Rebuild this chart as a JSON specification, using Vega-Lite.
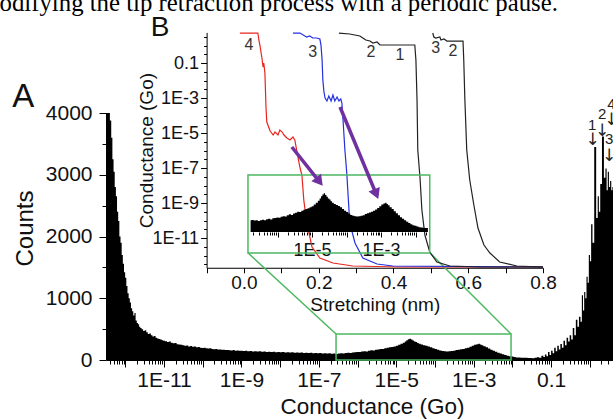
{
"$schema":"https://vega.github.io/schema/vega-lite/v6.json",
"autosize":{"type":"none"},
"padding":{"left":106,"top":113,"right":0,"bottom":59},
"width":507,"height":247,
"config":{"view":{"stroke":null},"axis":{"grid":false,"domainColor":"#000","tickColor":"#000","labelColor":"#111","titleColor":"#111","labelFont":"Liberation Sans","titleFont":"Liberation Sans","titleFontWeight":"normal","labelOverlap":false,"labelFlush":false,"labelBound":false},"text":{"font":"Liberation Sans"}},
"datasets":{
"hist":[{"log_g":-12.5,"count":4000},{"log_g":-12.46,"count":4000},{"log_g":-12.42,"count":4000},{"log_g":-12.38,"count":3880},{"log_g":-12.35,"count":3600},{"log_g":-12.32,"count":3250},{"log_g":-12.29,"count":3050},{"log_g":-12.26,"count":2800},{"log_g":-12.23,"count":2650},{"log_g":-12.2,"count":2400},{"log_g":-12.17,"count":2250},{"log_g":-12.14,"count":2000},{"log_g":-12.11,"count":1900},{"log_g":-12.08,"count":1700},{"log_g":-12.05,"count":1560},{"log_g":-12.02,"count":1420},{"log_g":-11.99,"count":1330},{"log_g":-11.96,"count":1200},{"log_g":-11.93,"count":1080},{"log_g":-11.9,"count":1000},{"log_g":-11.87,"count":930},{"log_g":-11.84,"count":840},{"log_g":-11.81,"count":790},{"log_g":-11.78,"count":720},{"log_g":-11.75,"count":760},{"log_g":-11.72,"count":640},{"log_g":-11.69,"count":600},{"log_g":-11.66,"count":580},{"log_g":-11.63,"count":540},{"log_g":-11.6,"count":520},{"log_g":-11.56,"count":500},{"log_g":-11.52,"count":470},{"log_g":-11.48,"count":480},{"log_g":-11.44,"count":450},{"log_g":-11.4,"count":420},{"log_g":-11.36,"count":430},{"log_g":-11.32,"count":400},{"log_g":-11.28,"count":380},{"log_g":-11.24,"count":390},{"log_g":-11.2,"count":360},{"log_g":-11.16,"count":350},{"log_g":-11.12,"count":340},{"log_g":-11.08,"count":330},{"log_g":-11.04,"count":320},{"log_g":-11,"count":310},{"log_g":-10.95,"count":305},{"log_g":-10.9,"count":290},{"log_g":-10.85,"count":300},{"log_g":-10.8,"count":280},{"log_g":-10.75,"count":270},{"log_g":-10.7,"count":275},{"log_g":-10.65,"count":255},{"log_g":-10.6,"count":250},{"log_g":-10.55,"count":245},{"log_g":-10.5,"count":240},{"log_g":-10.45,"count":230},{"log_g":-10.4,"count":235},{"log_g":-10.35,"count":220},{"log_g":-10.3,"count":225},{"log_g":-10.25,"count":215},{"log_g":-10.2,"count":220},{"log_g":-10.15,"count":205},{"log_g":-10.1,"count":210},{"log_g":-10.05,"count":200},{"log_g":-10,"count":195},{"log_g":-9.95,"count":200},{"log_g":-9.9,"count":190},{"log_g":-9.85,"count":185},{"log_g":-9.8,"count":190},{"log_g":-9.75,"count":180},{"log_g":-9.7,"count":175},{"log_g":-9.65,"count":180},{"log_g":-9.6,"count":170},{"log_g":-9.55,"count":172},{"log_g":-9.5,"count":165},{"log_g":-9.45,"count":168},{"log_g":-9.4,"count":160},{"log_g":-9.35,"count":162},{"log_g":-9.3,"count":158},{"log_g":-9.25,"count":155},{"log_g":-9.2,"count":160},{"log_g":-9.15,"count":150},{"log_g":-9.1,"count":152},{"log_g":-9.05,"count":148},{"log_g":-9,"count":150},{"log_g":-8.94,"count":145},{"log_g":-8.88,"count":148},{"log_g":-8.82,"count":140},{"log_g":-8.76,"count":145},{"log_g":-8.7,"count":138},{"log_g":-8.64,"count":142},{"log_g":-8.58,"count":136},{"log_g":-8.52,"count":140},{"log_g":-8.46,"count":132},{"log_g":-8.4,"count":136},{"log_g":-8.34,"count":130},{"log_g":-8.28,"count":134},{"log_g":-8.22,"count":128},{"log_g":-8.16,"count":132},{"log_g":-8.1,"count":126},{"log_g":-8.04,"count":130},{"log_g":-7.98,"count":125},{"log_g":-7.92,"count":128},{"log_g":-7.86,"count":122},{"log_g":-7.8,"count":126},{"log_g":-7.74,"count":120},{"log_g":-7.68,"count":124},{"log_g":-7.62,"count":118},{"log_g":-7.56,"count":122},{"log_g":-7.5,"count":116},{"log_g":-7.44,"count":120},{"log_g":-7.38,"count":114},{"log_g":-7.32,"count":118},{"log_g":-7.26,"count":112},{"log_g":-7.2,"count":116},{"log_g":-7.14,"count":110},{"log_g":-7.08,"count":114},{"log_g":-7.02,"count":108},{"log_g":-6.96,"count":112},{"log_g":-6.9,"count":106},{"log_g":-6.84,"count":110},{"log_g":-6.78,"count":104},{"log_g":-6.72,"count":108},{"log_g":-6.66,"count":102},{"log_g":-6.6,"count":106},{"log_g":-6.54,"count":98},{"log_g":-6.48,"count":104},{"log_g":-6.42,"count":110},{"log_g":-6.36,"count":106},{"log_g":-6.3,"count":114},{"log_g":-6.24,"count":118},{"log_g":-6.18,"count":112},{"log_g":-6.12,"count":122},{"log_g":-6.06,"count":126},{"log_g":-6,"count":130},{"log_g":-5.94,"count":128},{"log_g":-5.88,"count":136},{"log_g":-5.82,"count":140},{"log_g":-5.76,"count":138},{"log_g":-5.7,"count":150},{"log_g":-5.64,"count":158},{"log_g":-5.58,"count":152},{"log_g":-5.52,"count":165},{"log_g":-5.46,"count":172},{"log_g":-5.4,"count":180},{"log_g":-5.34,"count":178},{"log_g":-5.28,"count":190},{"log_g":-5.22,"count":198},{"log_g":-5.16,"count":205},{"log_g":-5.1,"count":212},{"log_g":-5.04,"count":220},{"log_g":-4.98,"count":230},{"log_g":-4.92,"count":245},{"log_g":-4.86,"count":262},{"log_g":-4.8,"count":280},{"log_g":-4.76,"count":300},{"log_g":-4.72,"count":320},{"log_g":-4.68,"count":335},{"log_g":-4.64,"count":345},{"log_g":-4.6,"count":330},{"log_g":-4.56,"count":315},{"log_g":-4.52,"count":300},{"log_g":-4.48,"count":290},{"log_g":-4.44,"count":275},{"log_g":-4.4,"count":262},{"log_g":-4.34,"count":250},{"log_g":-4.28,"count":240},{"log_g":-4.22,"count":232},{"log_g":-4.16,"count":220},{"log_g":-4.1,"count":205},{"log_g":-4.04,"count":190},{"log_g":-3.98,"count":178},{"log_g":-3.92,"count":165},{"log_g":-3.86,"count":152},{"log_g":-3.8,"count":145},{"log_g":-3.74,"count":140},{"log_g":-3.68,"count":138},{"log_g":-3.62,"count":140},{"log_g":-3.56,"count":145},{"log_g":-3.5,"count":150},{"log_g":-3.44,"count":160},{"log_g":-3.38,"count":168},{"log_g":-3.32,"count":175},{"log_g":-3.26,"count":180},{"log_g":-3.2,"count":190},{"log_g":-3.14,"count":200},{"log_g":-3.08,"count":215},{"log_g":-3.02,"count":230},{"log_g":-2.96,"count":245},{"log_g":-2.9,"count":255},{"log_g":-2.86,"count":262},{"log_g":-2.82,"count":250},{"log_g":-2.78,"count":238},{"log_g":-2.72,"count":222},{"log_g":-2.66,"count":205},{"log_g":-2.6,"count":185},{"log_g":-2.54,"count":168},{"log_g":-2.48,"count":150},{"log_g":-2.42,"count":132},{"log_g":-2.36,"count":118},{"log_g":-2.3,"count":104},{"log_g":-2.24,"count":92},{"log_g":-2.18,"count":80},{"log_g":-2.12,"count":70},{"log_g":-2.06,"count":60},{"log_g":-2,"count":55},{"log_g":-1.94,"count":48},{"log_g":-1.88,"count":42},{"log_g":-1.82,"count":40},{"log_g":-1.76,"count":38},{"log_g":-1.7,"count":35},{"log_g":-1.64,"count":36},{"log_g":-1.58,"count":32},{"log_g":-1.52,"count":34},{"log_g":-1.46,"count":30},{"log_g":-1.4,"count":35},{"log_g":-1.34,"count":45},{"log_g":-1.28,"count":38},{"log_g":-1.22,"count":70},{"log_g":-1.18,"count":50},{"log_g":-1.14,"count":90},{"log_g":-1.1,"count":60},{"log_g":-1.06,"count":130},{"log_g":-1.02,"count":80},{"log_g":-0.98,"count":150},{"log_g":-0.94,"count":110},{"log_g":-0.9,"count":200},{"log_g":-0.86,"count":140},{"log_g":-0.82,"count":230},{"log_g":-0.78,"count":170},{"log_g":-0.74,"count":260},{"log_g":-0.7,"count":200},{"log_g":-0.66,"count":310},{"log_g":-0.62,"count":240},{"log_g":-0.58,"count":360},{"log_g":-0.54,"count":300},{"log_g":-0.5,"count":400},{"log_g":-0.46,"count":330},{"log_g":-0.42,"count":520},{"log_g":-0.38,"count":400},{"log_g":-0.34,"count":650},{"log_g":-0.3,"count":540},{"log_g":-0.26,"count":700},{"log_g":-0.22,"count":620},{"log_g":-0.19,"count":1050},{"log_g":-0.16,"count":800},{"log_g":-0.13,"count":1100},{"log_g":-0.1,"count":1000},{"log_g":-0.07,"count":1350},{"log_g":-0.04,"count":1250},{"log_g":-0.01,"count":1700},{"log_g":0.02,"count":1600},{"log_g":0.05,"count":2200},{"log_g":0.09,"count":1900},{"log_g":0.14,"count":3450},{"log_g":0.19,"count":2300},{"log_g":0.22,"count":2650},{"log_g":0.25,"count":2400},{"log_g":0.29,"count":2850},{"log_g":0.34,"count":3620},{"log_g":0.39,"count":2950},{"log_g":0.42,"count":3100},{"log_g":0.45,"count":2750},{"log_g":0.48,"count":3050},{"log_g":0.51,"count":2800},{"log_g":0.54,"count":2900},{"log_g":0.57,"count":2750},{"log_g":0.6,"count":2800}],
"traces":[
{"trace":"t4","x_nm":-0.011,"log_g":0.714},{"trace":"t4","x_nm":0.037,"log_g":0.714},{"trace":"t4","x_nm":0.04,"log_g":0.314},{"trace":"t4","x_nm":0.043,"log_g":-0.029},{"trace":"t4","x_nm":0.048,"log_g":-0.714},{"trace":"t4","x_nm":0.051,"log_g":-1.229},{"trace":"t4","x_nm":0.053,"log_g":-1.0},{"trace":"t4","x_nm":0.056,"log_g":-1.571},{"trace":"t4","x_nm":0.059,"log_g":-3.571},{"trace":"t4","x_nm":0.061,"log_g":-4.371},{"trace":"t4","x_nm":0.07,"log_g":-4.886},{"trace":"t4","x_nm":0.078,"log_g":-5.114},{"trace":"t4","x_nm":0.083,"log_g":-4.943},{"trace":"t4","x_nm":0.091,"log_g":-5.114},{"trace":"t4","x_nm":0.096,"log_g":-4.829},{"trace":"t4","x_nm":0.102,"log_g":-4.943},{"trace":"t4","x_nm":0.107,"log_g":-5.114},{"trace":"t4","x_nm":0.115,"log_g":-5.286},{"trace":"t4","x_nm":0.123,"log_g":-5.4},{"trace":"t4","x_nm":0.131,"log_g":-5.229},{"trace":"t4","x_nm":0.136,"log_g":-5.4},{"trace":"t4","x_nm":0.142,"log_g":-6.086},{"trace":"t4","x_nm":0.15,"log_g":-7.0},{"trace":"t4","x_nm":0.155,"log_g":-7.4},{"trace":"t4","x_nm":0.16,"log_g":-8.829},{"trace":"t4","x_nm":0.168,"log_g":-10.143},{"trace":"t4","x_nm":0.182,"log_g":-11.514},{"trace":"t4","x_nm":0.203,"log_g":-12.143},{"trace":"t4","x_nm":0.238,"log_g":-12.429},{"trace":"t4","x_nm":0.291,"log_g":-12.6},{"trace":"t4","x_nm":0.417,"log_g":-12.657},{"trace":"t4","x_nm":0.8,"log_g":-12.657},
{"trace":"t3","x_nm":0.131,"log_g":0.714},{"trace":"t3","x_nm":0.15,"log_g":0.714},{"trace":"t3","x_nm":0.163,"log_g":0.543},{"trace":"t3","x_nm":0.168,"log_g":0.486},{"trace":"t3","x_nm":0.176,"log_g":0.543},{"trace":"t3","x_nm":0.184,"log_g":0.429},{"trace":"t3","x_nm":0.195,"log_g":0.429},{"trace":"t3","x_nm":0.203,"log_g":0.371},{"trace":"t3","x_nm":0.206,"log_g":0.029},{"trace":"t3","x_nm":0.209,"log_g":-0.829},{"trace":"t3","x_nm":0.211,"log_g":-1.971},{"trace":"t3","x_nm":0.214,"log_g":-2.657},{"trace":"t3","x_nm":0.217,"log_g":-3.0},{"trace":"t3","x_nm":0.222,"log_g":-3.171},{"trace":"t3","x_nm":0.227,"log_g":-2.886},{"trace":"t3","x_nm":0.233,"log_g":-3.171},{"trace":"t3","x_nm":0.238,"log_g":-2.829},{"trace":"t3","x_nm":0.243,"log_g":-3.171},{"trace":"t3","x_nm":0.249,"log_g":-2.943},{"trace":"t3","x_nm":0.254,"log_g":-3.171},{"trace":"t3","x_nm":0.259,"log_g":-3.057},{"trace":"t3","x_nm":0.262,"log_g":-3.286},{"trace":"t3","x_nm":0.265,"log_g":-4.257},{"trace":"t3","x_nm":0.27,"log_g":-5.971},{"trace":"t3","x_nm":0.275,"log_g":-7.286},{"trace":"t3","x_nm":0.283,"log_g":-10.143},{"trace":"t3","x_nm":0.297,"log_g":-11.286},{"trace":"t3","x_nm":0.318,"log_g":-12.143},{"trace":"t3","x_nm":0.356,"log_g":-12.486},{"trace":"t3","x_nm":0.398,"log_g":-12.6},{"trace":"t3","x_nm":0.8,"log_g":-12.657},
{"trace":"t1","x_nm":0.254,"log_g":0.714},{"trace":"t1","x_nm":0.283,"log_g":0.657},{"trace":"t1","x_nm":0.31,"log_g":0.543},{"trace":"t1","x_nm":0.318,"log_g":0.429},{"trace":"t1","x_nm":0.326,"log_g":0.314},{"trace":"t1","x_nm":0.337,"log_g":0.257},{"trace":"t1","x_nm":0.345,"log_g":0.143},{"trace":"t1","x_nm":0.356,"log_g":0.2},{"trace":"t1","x_nm":0.364,"log_g":0.029},{"trace":"t1","x_nm":0.457,"log_g":0.029},{"trace":"t1","x_nm":0.46,"log_g":-0.829},{"trace":"t1","x_nm":0.463,"log_g":-3.114},{"trace":"t1","x_nm":0.465,"log_g":-5.971},{"trace":"t1","x_nm":0.471,"log_g":-7.571},{"trace":"t1","x_nm":0.476,"log_g":-9.4},{"trace":"t1","x_nm":0.484,"log_g":-10.829},{"trace":"t1","x_nm":0.497,"log_g":-11.8},{"trace":"t1","x_nm":0.516,"log_g":-12.371},{"trace":"t1","x_nm":0.551,"log_g":-12.6},{"trace":"t1","x_nm":0.631,"log_g":-12.657},{"trace":"t1","x_nm":0.8,"log_g":-12.657},
{"trace":"t2","x_nm":0.505,"log_g":0.714},{"trace":"t2","x_nm":0.508,"log_g":0.486},{"trace":"t2","x_nm":0.513,"log_g":0.429},{"trace":"t2","x_nm":0.524,"log_g":0.486},{"trace":"t2","x_nm":0.527,"log_g":0.314},{"trace":"t2","x_nm":0.535,"log_g":0.371},{"trace":"t2","x_nm":0.543,"log_g":0.257},{"trace":"t2","x_nm":0.586,"log_g":0.257},{"trace":"t2","x_nm":0.588,"log_g":-0.829},{"trace":"t2","x_nm":0.591,"log_g":-3.114},{"trace":"t2","x_nm":0.596,"log_g":-5.971},{"trace":"t2","x_nm":0.604,"log_g":-7.686},{"trace":"t2","x_nm":0.615,"log_g":-9.114},{"trace":"t2","x_nm":0.626,"log_g":-10.429},{"trace":"t2","x_nm":0.642,"log_g":-11.4},{"trace":"t2","x_nm":0.658,"log_g":-11.857},{"trace":"t2","x_nm":0.684,"log_g":-12.371},{"trace":"t2","x_nm":0.73,"log_g":-12.6},{"trace":"t2","x_nm":0.8,"log_g":-12.657}]
},
"resolve":{"scale":{"x":"independent","y":"independent","color":"independent"},"axis":{"x":"independent","y":"independent"}},
"layer":[
{
"encoding":{
"x":{"field":"log_g","type":"quantitative","title":"Conductance (Go)","scale":{"domain":[-12.5,0.6],"nice":false,"zero":false},
"axis":{"orient":"bottom","values":[-12.398,-12.301,-12.222,-12.155,-12.097,-12.046,-12,-11.699,-11.523,-11.398,-11.301,-11.222,-11.155,-11.097,-11.046,-11,-10.699,-10.523,-10.398,-10.301,-10.222,-10.155,-10.097,-10.046,-10,-9.699,-9.523,-9.398,-9.301,-9.222,-9.155,-9.097,-9.046,-9,-8.699,-8.523,-8.398,-8.301,-8.222,-8.155,-8.097,-8.046,-8,-7.699,-7.523,-7.398,-7.301,-7.222,-7.155,-7.097,-7.046,-7,-6.699,-6.523,-6.398,-6.301,-6.222,-6.155,-6.097,-6.046,-6,-5.699,-5.523,-5.398,-5.301,-5.222,-5.155,-5.097,-5.046,-5,-4.699,-4.523,-4.398,-4.301,-4.222,-4.155,-4.097,-4.046,-4,-3.699,-3.523,-3.398,-3.301,-3.222,-3.155,-3.097,-3.046,-3,-2.699,-2.523,-2.398,-2.301,-2.222,-2.155,-2.097,-2.046,-2,-1.699,-1.523,-1.398,-1.301,-1.222,-1.155,-1.097,-1.046,-1,-0.699,-0.523,-0.398,-0.301,-0.222,-0.155,-0.097,-0.046,0,0.301,0.477],
"labelExpr":"abs(datum.value - round(datum.value)) < 0.001 && abs(round(datum.value)) % 2 == 1 ? (round(datum.value) == -1 ? '0.1' : '1E' + round(datum.value)) : ''",
"tickSize":{"condition":{"test":"abs(datum.value - round(datum.value)) < 0.001","value":7},"value":4},
"labelFontSize":21,"labelPadding":2,"titleFontSize":22.5,"titleX":266,"titleY":53,"titleBaseline":"alphabetic","titleAlign":"center"}},
"y":{"field":"count","type":"quantitative","title":"Counts","scale":{"domain":[0,4000],"nice":false,"zero":false},
"axis":{"orient":"left","values":[0,500,1000,1500,2000,2500,3000,3500,4000],
"labelExpr":"datum.value % 1000 == 0 ? format(datum.value, 'd') : ''",
"tickSize":{"condition":{"test":"datum.value % 1000 == 0","value":7},"value":4},
"labelFontSize":21,"labelPadding":7,"titleFontSize":24,"titleX":-81,"titleY":115,"titleBaseline":"middle","titleAlign":"center"}}
},
"layer":[
{"data":{"name":"hist"},"mark":{"type":"area","interpolate":"step","color":"#000"}},
{"data":{"values":[{"log_g":-6.556,"log_g2":-2.034,"count":0,"count2":421}]},"mark":{"type":"rect","filled":false,"stroke":"#4cb860","strokeWidth":1.5},"encoding":{"x2":{"field":"log_g2"},"y2":{"field":"count2"}}},
{"data":{"values":[{"log_g":-8.829,"log_g2":-6.556,"count":1733,"count2":421},{"log_g":-4.127,"log_g2":-2.034,"count":1733,"count2":421}]},"mark":{"type":"rule","stroke":"#4cb860","strokeWidth":1.5},"encoding":{"x2":{"field":"log_g2"},"y2":{"field":"count2"}}},
{"data":{"values":[{"log_g":-15.75,"count":5650,"label":"modifying the tip retraction process with a periodic pause."}]},"mark":{"type":"text","font":"Liberation Serif","fontSize":24.8,"baseline":"alphabetic","align":"left","color":"#000"},"encoding":{"text":{"field":"label"}}},
{"data":{"values":[{"log_g":-14.64,"count":4097,"label":"A"}]},"mark":{"type":"text","fontSize":33,"baseline":"alphabetic","align":"center","color":"#111"},"encoding":{"text":{"field":"label"}}},
{"data":{"values":[{"log_g":-11.1,"count":5250,"label":"B"}]},"mark":{"type":"text","fontSize":28,"baseline":"alphabetic","align":"center","color":"#111"},"encoding":{"text":{"field":"label"}}},
{"data":{"values":[{"log_g":0.059,"count":3806,"label":"1"},{"log_g":0.318,"count":3984,"label":"2"},{"log_g":0.499,"count":3579,"label":"3"},{"log_g":0.56,"count":4146,"label":"4"}]},"mark":{"type":"text","fontSize":15,"baseline":"middle","align":"center","color":"#222"},"encoding":{"text":{"field":"label"}}},
{"data":{"values":[{"log_g":0.072,"count":3560,"label":"↓"},{"log_g":0.318,"count":3715,"label":"↓"},{"log_g":0.499,"count":3300,"label":"↓"},{"log_g":0.56,"count":3880,"label":"↓"}]},"mark":{"type":"text","font":"DejaVu Sans","fontSize":17,"baseline":"middle","align":"center","color":"#222"},"encoding":{"text":{"field":"label"}}}
]
},
{
"encoding":{
"x":{"field":"x_nm","type":"quantitative","title":"Stretching (nm)","scale":{"domain":[-0.1,0.8],"range":[100.6,437],"nice":false,"zero":false},
"axis":{"orient":"bottom","offset":-92.25,"values":[-0.1,0,0.1,0.2,0.3,0.4,0.5,0.6,0.7,0.8],
"labelExpr":"round(datum.value*10) % 2 == 0 && datum.value > -0.05 ? format(datum.value, '.1f') : ''",
"tickSize":5,"labelFontSize":19,"labelPadding":1,"titleFontSize":19,"titleY":43,"titleBaseline":"alphabetic"}},
"y":{"field":"log_g","type":"quantitative","title":"Conductance (Go)","scale":{"domain":[-12.7,0.75],"range":[154.75,-80.6],"nice":false,"zero":false},
"axis":{"orient":"left","offset":-100.6,"values":[-12.5,-12,-11.5,-11,-10.5,-10,-9.5,-9,-8.5,-8,-7.5,-7,-6.5,-6,-5.5,-5,-4.5,-4,-3.5,-3,-2.5,-2,-1.5,-1,-0.5,0,0.5],
"labelExpr":"abs(round(datum.value) - datum.value) < 0.01 && abs(round(datum.value)) % 2 == 1 ? (round(datum.value) == -1 ? '0.1' : '1E' + round(datum.value)) : ''",
"tickSize":{"condition":{"test":"abs(round(datum.value) - datum.value) < 0.01 && abs(round(datum.value)) % 2 == 1","value":6},"value":3},
"labelFontSize":18,"labelPadding":2,"titleFontSize":19,"titleX":-60,"titleBaseline":"middle","titleAlign":"center"}}
},
"layer":[
{"data":{"name":"traces"},"mark":{"type":"line","strokeWidth":1.2},"encoding":{"color":{"field":"trace","type":"nominal","legend":null,"scale":{"domain":["t4","t3","t1","t2"],"range":["#e8251f","#2430dd","#222222","#222222"]}}}},
{"data":{"values":[{"x_nm":0.0107,"x2_nm":0.497,"log_g":-11.857,"log_g2":-7.4}]},"mark":{"type":"rect","filled":false,"stroke":"#4cb860","strokeWidth":1.5},"encoding":{"x2":{"field":"x2_nm"},"y2":{"field":"log_g2"}}},
{"data":{"values":[{"x_nm":0.128,"x2_nm":0.199,"log_g":-5.8,"log_g2":-7.703},{"x_nm":0.257,"x2_nm":0.352,"log_g":-3.514,"log_g2":-8.4}]},"mark":{"type":"rule","stroke":"#7030a0","strokeWidth":3.5},"encoding":{"x2":{"field":"x2_nm"},"y2":{"field":"log_g2"}}},
{"data":{"values":[{"x_nm":0.199,"log_g":-7.703}]},"mark":{"type":"point","shape":"triangle","filled":true,"color":"#7030a0","opacity":1,"size":150,"angle":141.7}},
{"data":{"values":[{"x_nm":0.352,"log_g":-8.4}]},"mark":{"type":"point","shape":"triangle","filled":true,"color":"#7030a0","opacity":1,"size":150,"angle":157.3}},
{"data":{"values":[{"x_nm":0.013,"log_g":0.029,"label":"4"},{"x_nm":0.184,"log_g":-0.371,"label":"3"},{"x_nm":0.34,"log_g":-0.371,"label":"2"},{"x_nm":0.417,"log_g":-0.543,"label":"1"},{"x_nm":0.513,"log_g":-0.143,"label":"3"},{"x_nm":0.559,"log_g":-0.314,"label":"2"}]},"mark":{"type":"text","fontSize":16,"baseline":"middle","align":"center","color":"#333"},"encoding":{"text":{"field":"label"}}}
]
},
{
"data":{"name":"hist"},
"transform":[{"filter":"datum.log_g >= -6.8 && datum.log_g <= -1.6"}],
"mark":{"type":"area","interpolate":"step","color":"#000"},
"encoding":{
"x":{"field":"log_g","type":"quantitative","scale":{"domain":[-7,-1],"range":[137,344],"nice":false,"zero":false},
"axis":{"orient":"bottom","offset":-128,"domain":false,"title":null,"values":[-6.699,-6.523,-6.398,-6.301,-6.222,-6.155,-6.097,-6.046,-6,-5.699,-5.523,-5.398,-5.301,-5.222,-5.155,-5.097,-5.046,-5,-4.699,-4.523,-4.398,-4.301,-4.222,-4.155,-4.097,-4.046,-4,-3.699,-3.523,-3.398,-3.301,-3.222,-3.155,-3.097,-3.046,-3,-2.699,-2.523,-2.398,-2.301,-2.222,-2.155,-2.097,-2.046,-2,-1.699],
"labelExpr":"datum.value == -5 ? '1E-5' : datum.value == -3 ? '1E-3' : ''",
"tickSize":{"condition":{"test":"datum.value == round(datum.value)","value":5},"value":3},
"labelFontSize":18,"labelPadding":4}},
"y":{"field":"count","type":"quantitative","scale":{"domain":[0,400],"range":[119,74.2],"nice":false,"zero":false},"axis":null}
}
}
]
}
